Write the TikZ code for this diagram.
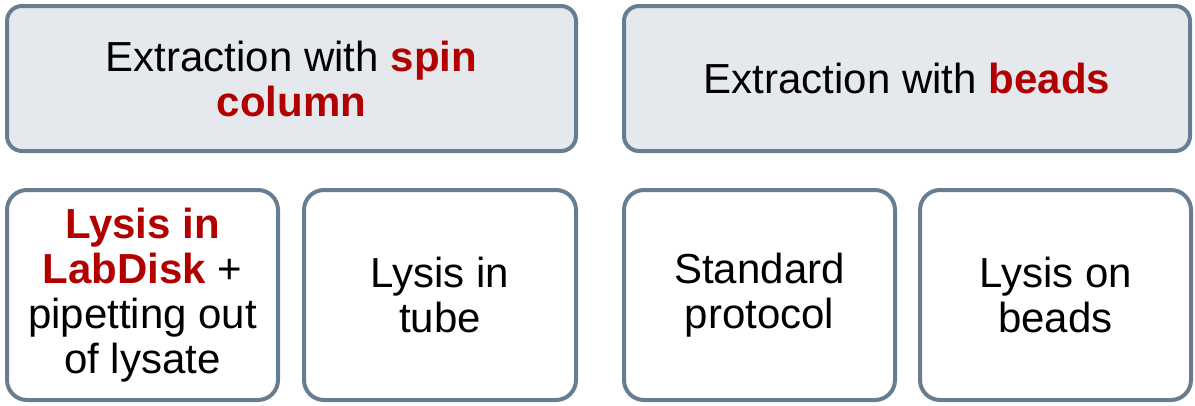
\documentclass[tikz,border=0pt]{standalone}
\usepackage{fontspec}
\setmainfont{Liberation Sans}
\usepackage{tikz}
\usepackage{xcolor}
\definecolor{edgegray}{HTML}{687D90}
\definecolor{headfill}{HTML}{E5E8ED}
\definecolor{hired}{HTML}{B00000}
\newcommand{\hl}[1]{\textbf{\color{hired}#1}}
\begin{document}
\begin{tikzpicture}[x=1pt,y=-1pt,font=\fontsize{42}{45}\selectfont,
  every node/.style={draw=edgegray,line width=4pt,align=center,inner sep=0pt},
  headbox/.style={fill=headfill,rounded corners=15pt,minimum height=145pt},
  subbox/.style={fill=white,rounded corners=20pt,minimum width=271pt,minimum height=210pt}]
\useasboundingbox (0,0) rectangle (1195,405);
\node[headbox,minimum width=569pt](spin) at (291.5,78.5){Extraction with \hl{spin}\\\hl{column}};
\node[headbox,minimum width=566pt](beads) at (907,78.5){Extraction with \hl{beads}};
\node[subbox](disk) at (142.5,295){\hl{Lysis in}\\\hl{LabDisk} +\\pipetting out\\of lysate};
\node[subbox,minimum width=272pt](tube) at (440,295){Lysis in\\tube};
\node[subbox](std) at (759.5,295){Standard\\protocol};
\node[subbox](onbeads) at (1055.5,295){Lysis on\\beads};
\end{tikzpicture}
\end{document}
